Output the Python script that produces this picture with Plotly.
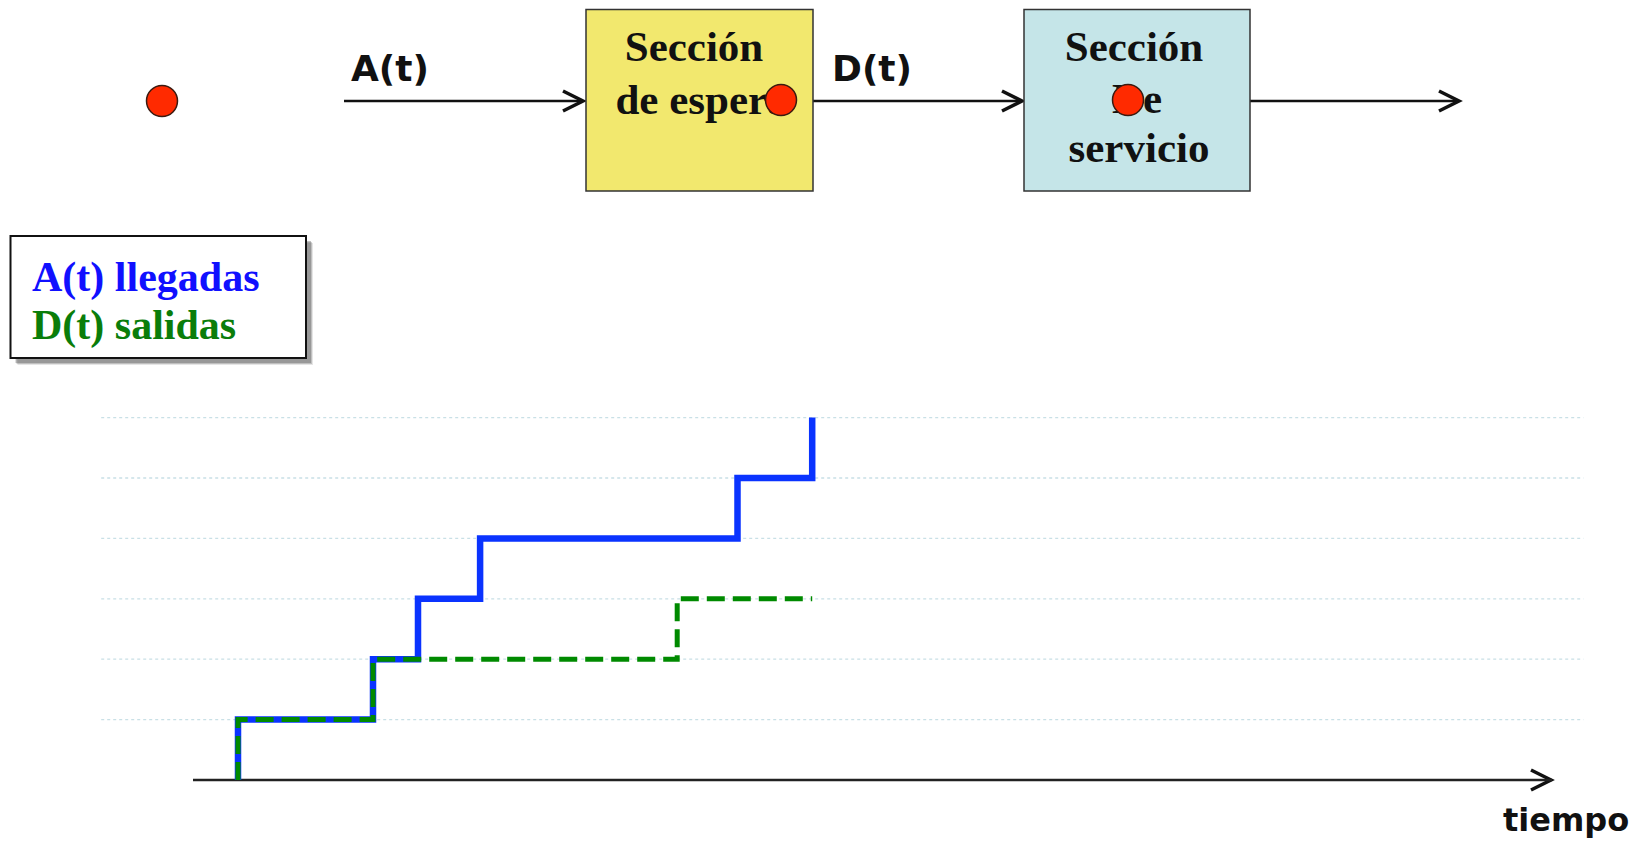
import plotly.graph_objects as go

# ---------------- data ----------------
arrival_times = [1.0, 4.0, 5.0, 6.38, 12.1, 13.76]      # A(t) jumps
departure_times = [1.0, 4.0, 10.76]                     # D(t) jumps
departure_end = 13.76                                   # end of D(t) drawing
grid_levels = [1, 2, 3, 4, 5, 6]
legend_labels = ["A(t) llegadas", "D(t) salidas"]
box_labels_wait = ["Sección", "de espera"]
box_labels_service = ["Sección", "De", "servicio"]
flow_labels = ["A(t)", "D(t)"]
axis_label = "tiempo"

W, H = 1638, 842
# axis ranges chosen so that the plot spans the whole page
X0, X1 = -193 / 45, (W - 193) / 45
Y0, Y1 = -(H - 780) / 60.4, 780 / 60.4

def px(x):
    return x / W

def py(y):
    return 1 - y / H

def dxp(x):  # page pixel -> data x
    return X0 + x / W * (X1 - X0)

def dyp(y):  # page pixel -> data y
    return Y1 - y / H * (Y1 - Y0)

def step(times, end=None):
    xs, ys = [], []
    for i, t in enumerate(times):
        xs += [t, t]
        ys += [i, i + 1]
    if end is not None:
        xs.append(end)
        ys.append(len(times))
    return xs, ys

BLUE = "#0a33ff"
GREEN = "#008a00"
serif = "Liberation Serif, Times New Roman, serif"
sans = "DejaVu Sans, sans-serif"

fig = go.Figure()
ax, ay = step(arrival_times)
fig.add_trace(go.Scatter(x=ax, y=ay, mode="lines", line=dict(color=BLUE, width=6.5),
                         hoverinfo="skip", showlegend=False))
dx, dy = step(departure_times, departure_end)
fig.add_trace(go.Scatter(x=dx, y=dy, mode="lines",
                         line=dict(color=GREEN, width=5, dash="18px,8px"),
                         hoverinfo="skip", showlegend=False))

# box texts as text traces (so the red dots can be drawn over them)
wait_pos = [(694, 50), (702, 103)]
serv_pos = [(1134, 50), (1137, 102), (1139, 151)]
fig.add_trace(go.Scatter(
    x=[dxp(p[0]) for p in wait_pos + serv_pos],
    y=[dyp(p[1]) for p in wait_pos + serv_pos],
    text=box_labels_wait + box_labels_service, mode="text", textposition="middle center",
    textfont=dict(family=serif, size=43, color="#111", weight="bold"),
    hoverinfo="skip", showlegend=False))

# red dots
dots = [(162, 101), (781, 100), (1128, 100)]
fig.add_trace(go.Scatter(
    x=[dxp(p[0]) for p in dots], y=[dyp(p[1]) for p in dots], mode="markers",
    marker=dict(size=31, color="#ff2a00", line=dict(color="#3a1a10", width=1.5)),
    hoverinfo="skip", showlegend=False))

shapes = []
# grid lines
for lv in grid_levels:
    shapes.append(dict(type="line", xref="x", yref="y", x0=-2.04, x1=30.9, y0=lv, y1=lv,
                       line=dict(color="#c9e0e6", width=1.3, dash="dot"), layer="below"))
# time axis
shapes.append(dict(type="line", xref="x", yref="y", x0=0, x1=30.2, y0=0, y1=0,
                   line=dict(color="#222", width=2.5), layer="below"))

def chevron(xt, yt, size=20, half=10):
    return dict(type="path", xref="paper", yref="paper",
                path=f"M {px(xt-size)} {py(yt-half)} L {px(xt)} {py(yt)} L {px(xt-size)} {py(yt+half)}",
                line=dict(color="#111", width=3.5), layer="below")

shapes.append(chevron(1551, 780))

# flow arrows on top
for (xa, xb) in [(344, 583), (813, 1022), (1250, 1459)]:
    shapes.append(dict(type="line", xref="paper", yref="paper", x0=px(xa), x1=px(xb),
                       y0=py(101), y1=py(101), line=dict(color="#111", width=2.5), layer="below"))
    shapes.append(chevron(xb, 101))

# boxes
shapes.append(dict(type="rect", xref="paper", yref="paper", x0=px(586), x1=px(813),
                   y0=py(9.5), y1=py(191), fillcolor="#f2e86e",
                   line=dict(color="#333", width=1.5), layer="below"))
shapes.append(dict(type="rect", xref="paper", yref="paper", x0=px(1024), x1=px(1250),
                   y0=py(9.5), y1=py(191), fillcolor="#c5e5e8",
                   line=dict(color="#333", width=1.5), layer="below"))

# legend box with soft shadow
for off, op in [(7, 0.15), (6, 0.25), (5, 0.35)]:
    shapes.append(dict(type="rect", xref="paper", yref="paper", x0=px(10.5 + off), x1=px(306 + off),
                       y0=py(236 + off), y1=py(358 + off), fillcolor=f"rgba(80,80,80,{op})",
                       line=dict(width=0), layer="below"))
shapes.append(dict(type="rect", xref="paper", yref="paper", x0=px(10.5), x1=px(306),
                   y0=py(236), y1=py(358), fillcolor="white",
                   line=dict(color="#111", width=2), layer="below"))

annotations = []
for txt, cx in zip(flow_labels, [373, 835]):
    annotations.append(dict(x=px(cx * 1.0446), y=py(68), xref="paper", yref="paper", text=txt,
                            showarrow=False, xanchor="center", yanchor="middle",
                            font=dict(family=sans, size=36, color="#111", weight="bold")))

for txt, cy, col in zip(legend_labels, [277, 326], ["#1010ff", "#0a7d0a"]):
    annotations.append(dict(x=px(30), y=py(cy), xref="paper", yref="paper", text=txt,
                            showarrow=False, xanchor="left", yanchor="middle",
                            font=dict(family=serif, size=42, color=col, weight="bold")))

annotations.append(dict(x=px(1566), y=py(820), xref="paper", yref="paper", text=axis_label,
                        showarrow=False, xanchor="center", yanchor="middle",
                        font=dict(family=sans, size=32, color="#111", weight="bold")))

fig.update_layout(
    width=W, height=H, autosize=False,
    margin=dict(l=0, r=0, t=0, b=0),
    paper_bgcolor="white", plot_bgcolor="white",
    xaxis=dict(range=[X0, X1], visible=False, fixedrange=True),
    yaxis=dict(range=[Y0, Y1], visible=False, fixedrange=True),
    shapes=shapes, annotations=annotations, showlegend=False,
)

fig.write_html("out.html", post_script="document.body.style.margin='0';",
               config={"displayModeBar": False})
